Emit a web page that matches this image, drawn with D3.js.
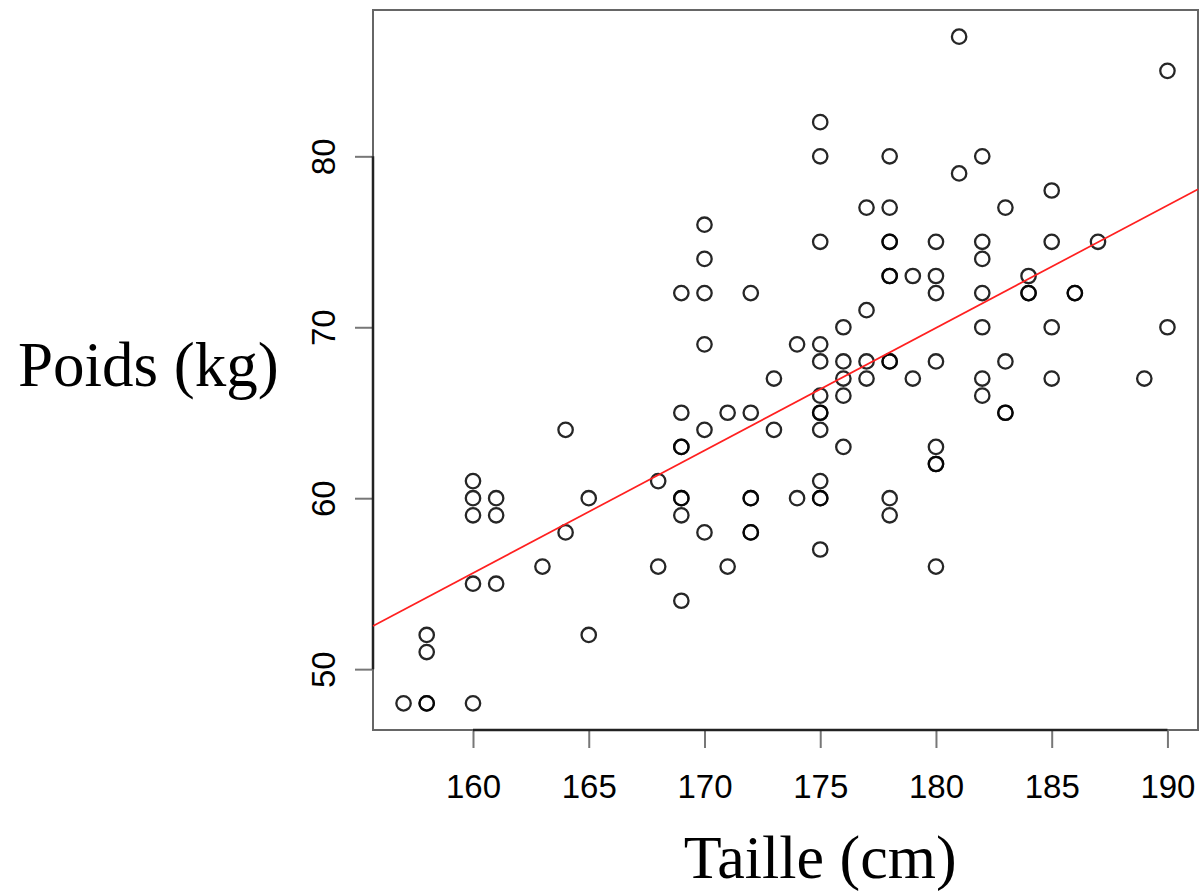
<!DOCTYPE html>
<html>
<head>
<meta charset="utf-8">
<script src="https://cdn.jsdelivr.net/npm/d3@7"></script>
<style>
  body { margin: 0; background: #fff; }
</style>
</head>
<body>
<div id="chart"></div>
<script>
'use strict';

// heights (cm) and weights (kg)
const taille = [
  157,
  158, 158, 158, 158,
  160, 160, 160, 160, 160,
  161, 161, 161,
  163,
  164, 164,
  165, 165,
  168, 168,
  169, 169, 169, 169, 169, 169, 169, 169,
  170, 170, 170, 170, 170, 170,
  171, 171,
  172, 172, 172, 172, 172, 172,
  173, 173,
  174, 174,
  175, 175, 175, 175, 175, 175, 175, 175, 175, 175, 175, 175, 175,
  176, 176, 176, 176, 176,
  177, 177, 177, 177,
  178, 178, 178, 178, 178, 178, 178, 178, 178, 178,
  179, 179,
  180, 180, 180, 180, 180, 180, 180, 180,
  181, 181,
  182, 182, 182, 182, 182, 182, 182,
  183, 183, 183, 183,
  184, 184, 184,
  185, 185, 185, 185,
  186, 186,
  187,
  189,
  190, 190
]
const poids = [
  48,
  48, 48, 51, 52,
  61, 60, 59, 55, 48,
  60, 59, 55,
  56,
  64, 58,
  60, 52,
  61, 56,
  72, 65, 63, 63, 60, 60, 59, 54,
  76, 74, 72, 69, 64, 58,
  65, 56,
  72, 65, 60, 60, 58, 58,
  67, 64,
  69, 60,
  82, 80, 75, 69, 68, 66, 65, 65, 64, 61, 60, 60, 57,
  70, 68, 67, 66, 63,
  77, 71, 68, 67,
  80, 77, 75, 75, 73, 73, 68, 68, 60, 59,
  73, 67,
  75, 73, 72, 68, 63, 62, 62, 56,
  87, 79,
  80, 75, 74, 72, 70, 67, 66,
  77, 68, 65, 65,
  73, 72, 72,
  78, 75, 70, 67,
  72, 72,
  75,
  67,
  85, 70
]

const xTicks = [160, 165, 170, 175, 180, 185, 190]
const yTicks = [50, 60, 70, 80]

// fitted line: poids = a + b * taille
const fit = { a: -59.1, b: 0.717 }

const xLabel = 'Taille (cm)'
const yLabel = 'Poids (kg)'

let dimensions = {
  width: 1201,
  height: 894,
  margin: { top: 10, right: 3, bottom: 164, left: 373 }
}
dimensions.ctrWidth = dimensions.width - dimensions.margin.left - dimensions.margin.right
dimensions.ctrHeight = dimensions.height - dimensions.margin.top - dimensions.margin.bottom

const svg = d3.select('#chart')
  .append('svg')
  .attr('width', dimensions.width)
  .attr('height', dimensions.height)

const chart_g = svg.append('g')
  .attr('transform', `translate(${dimensions.margin.left}, ${dimensions.margin.top})`)

// R style 4% padding around the data range
function padded(values){
  const [lo, hi] = d3.extent(values)
  const pad = (hi - lo) * 0.04
  return [lo - pad, hi + pad]
}

const xScale = d3.scaleLinear()
  .domain(padded(taille))
  .range([0, dimensions.ctrWidth])

const yScale = d3.scaleLinear()
  .domain(padded(poids))
  .range([dimensions.ctrHeight, 0])

// plot box
chart_g.append('rect')
  .attr('width', dimensions.ctrWidth)
  .attr('height', dimensions.ctrHeight)
  .attr('fill', 'none')
  .attr('stroke', '#666')
  .attr('stroke-width', 2)

// x axis
const xAxis = chart_g.append('g')
  .attr('transform', `translate(0, ${dimensions.ctrHeight})`)
  .call(d3.axisBottom(xScale).tickValues(xTicks).tickSize(18).tickSizeOuter(0))
xAxis.select('.domain').remove()
xAxis.selectAll('line').attr('stroke', '#777').attr('stroke-width', 2)
xAxis.selectAll('text')
  .attr('y', 68)
  .attr('dy', 0)
  .attr('fill', '#000')
  .style('font-family', '"Liberation Sans", Arial, sans-serif')
  .style('font-size', '33px')
xAxis.append('line')
  .attr('x1', xScale(xTicks[0]))
  .attr('x2', xScale(xTicks[xTicks.length - 1]))
  .attr('stroke', '#222')
  .attr('stroke-width', 2.5)

// y axis
const yAxis = chart_g.append('g')
  .call(d3.axisLeft(yScale).tickValues(yTicks).tickSize(18).tickSizeOuter(0))
yAxis.select('.domain').remove()
yAxis.selectAll('line').attr('stroke', '#777').attr('stroke-width', 2)
yAxis.selectAll('text')
  .attr('transform', 'rotate(-90)')
  .attr('x', 0)
  .attr('y', -38)
  .attr('dy', 0)
  .attr('text-anchor', 'middle')
  .attr('fill', '#000')
  .style('font-family', '"Liberation Sans", Arial, sans-serif')
  .style('font-size', '33px')
yAxis.append('line')
  .attr('y1', yScale(yTicks[0]))
  .attr('y2', yScale(yTicks[yTicks.length - 1]))
  .attr('stroke', '#222')
  .attr('stroke-width', 2.5)

// points
chart_g.append('g')
  .selectAll('circle')
  .data(d3.range(taille.length))
  .join('circle')
  .attr('cx', i => xScale(taille[i]))
  .attr('cy', i => yScale(poids[i]))
  .attr('r', 7.2)
  .attr('fill', 'none')
  .attr('stroke', '#000')
  .attr('stroke-opacity', 0.85)
  .attr('stroke-width', 2.3)

// regression line across the plot
const [x0, x1] = xScale.domain()
chart_g.append('line')
  .attr('x1', xScale(x0))
  .attr('y1', yScale(fit.a + fit.b * x0))
  .attr('x2', xScale(x1))
  .attr('y2', yScale(fit.a + fit.b * x1))
  .attr('stroke', '#ff2020')
  .attr('stroke-width', 1.7)

// axis titles
svg.append('text')
  .attr('x', dimensions.margin.left + xScale(175))
  .attr('y', 878)
  .attr('text-anchor', 'middle')
  .style('font-family', '"Liberation Serif", "Times New Roman", serif')
  .style('font-size', '62px')
  .text(xLabel)

svg.append('text')
  .attr('x', 18)
  .attr('y', 386)
  .style('font-family', '"Liberation Serif", "Times New Roman", serif')
  .style('font-size', '63px')
  .text(yLabel)
</script>
</body>
</html>
